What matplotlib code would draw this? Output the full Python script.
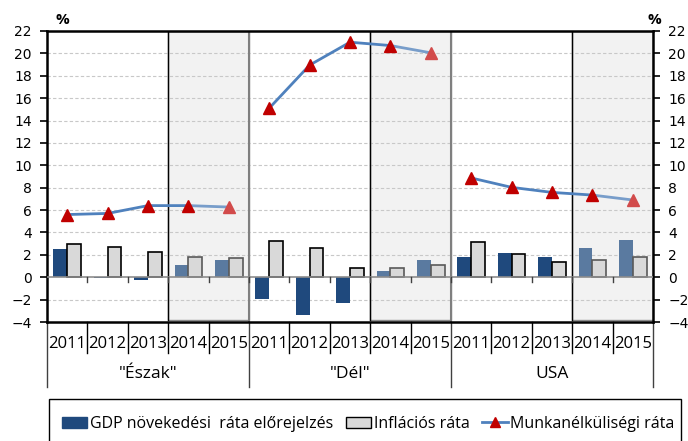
import matplotlib.pyplot as plt
import matplotlib.transforms as mtransforms
from matplotlib.patches import Rectangle, Patch
from matplotlib.lines import Line2D
import numpy as np

groups = ['"Észak"', '"Dél"', "USA"]
years = ["2011", "2012", "2013", "2014", "2015"]
n_forecast = 2  # last two years are forecasts

gdp = [
    [2.5, -0.05, -0.25, 1.05, 1.55],
    [-1.97, -3.37, -2.27, 0.57, 1.5],
    [1.8, 2.2, 1.85, 2.6, 3.35],
]
inflation = [
    [2.95, 2.7, 2.25, 1.85, 1.7],
    [3.2, 2.57, 0.84, 0.84, 1.05],
    [3.13, 2.1, 1.4, 1.55, 1.8],
]
unemployment = [
    [5.6, 5.7, 6.4, 6.4, 6.27],
    [15.1, 18.95, 21.0, 20.7, 20.05],
    [8.87, 8.03, 7.58, 7.34, 6.9],
]

C_GDP = "#1f497d"
C_GDP_F = "#5a7aa0"
C_INF = "#d9d9d9"
C_LINE = "#4f81bd"
C_MARK = "#c00000"
C_MARK_F = "#d24b4b"

plt.rcParams["font.family"] = ["Open Sans", "DejaVu Sans"]

fig = plt.figure(figsize=(6.88, 4.41), dpi=100)
ax = fig.add_axes([47 / 688, 1 - 322 / 441, 606 / 688, 291 / 441])

n_years = len(years)
total = n_years * len(groups)
ax.set_xlim(0, total)
ax.set_ylim(-4, 22)
trans = mtransforms.blended_transform_factory(ax.transData, ax.transAxes)

w = 0.34
for g in range(len(groups)):
    base = g * n_years
    # forecast shading
    ax.add_patch(Rectangle((base + n_years - n_forecast, -3.85), n_forecast, 25.85,
                           facecolor="#f2f2f2", edgecolor="#8c8c8c", lw=1.0, zorder=0))
    ax.plot([base + n_years - n_forecast] * 2, [-3.85, 22], color="black", lw=1.0, zorder=1)
    if g > 0:
        ax.plot([base, base], [-4, 22], color="#7f7f7f", lw=1.5, zorder=1)
    for i in range(n_years):
        xc = base + i + 0.5
        fc = i >= n_years - n_forecast
        ax.bar(xc - w / 2, gdp[g][i], w, color=C_GDP_F if fc else C_GDP, zorder=3)
        ax.bar(xc + w / 2, inflation[g][i], w, color=C_INF,
               edgecolor="#595959" if fc else "black", lw=1.2, zorder=3)
    xs = base + np.arange(n_years) + 0.5
    k = n_years - n_forecast
    ax.plot(xs[:k + 1], unemployment[g][:k + 1], color=C_LINE, lw=2, zorder=4)
    ax.plot(xs[k:], unemployment[g][k:], color=C_LINE, lw=2, alpha=0.75, zorder=4)
    ax.plot(xs[:k + 1], unemployment[g][:k + 1], ls="none", marker="^", ms=8,
            color=C_MARK, zorder=5)
    ax.plot(xs[k + 1:], unemployment[g][k + 1:], ls="none", marker="^", ms=8,
            color=C_MARK_F, zorder=5)
    ax.text(base + n_years / 2, -0.18, groups[g], transform=trans,
            ha="center", va="center", fontsize=12.5)

# grid and zero line
for yv in range(-2, 22, 2):
    if yv == 0:
        continue
    ax.axhline(yv, color="#c8c8c8", lw=0.8, ls=(0, (3, 2)), zorder=0.5)
ax.axhline(0, color="#8c8c8c", lw=1.2, zorder=3.5)
for xb in range(1, total):
    ax.plot([xb, xb], [0, -0.45], color="#404040", lw=1.0, zorder=3.5)

# y axes
ax.set_yticks(range(-4, 23, 2))
ax.tick_params(axis="y", which="both", left=True, right=True, labelleft=True,
               labelright=True, direction="out", length=5, width=1.2, labelsize=10, pad=6)
for lab in ax.get_yticklabels():
    lab.set_fontfamily("DejaVu Sans")
ax.set_xticks([])
for s in ax.spines.values():
    s.set_color("black")
    s.set_linewidth(1.8)

# year labels and separators below the axis
for j in range(total):
    ax.text(j + 0.5, -0.075, years[j % n_years], transform=trans, ha="center",
            va="center", fontsize=12)
for xb in range(total + 1):
    bottom = -0.225 if xb % n_years == 0 else -0.105
    ax.add_line(Line2D([xb, xb], [0, bottom], transform=trans, color="black" if xb % n_years else "#404040",
                       lw=1.0, clip_on=False))

fig.text(62 / 688, 1 - 20 / 441, "%", ha="center", va="center", fontsize=11, fontweight="bold")
fig.text(654 / 688, 1 - 20 / 441, "%", ha="center", va="center", fontsize=11, fontweight="bold")

# legend
fig.add_artist(Rectangle((49 / 688, -0.05), 632 / 688, 0.05 + 42 / 441,
                         transform=fig.transFigure, facecolor="white", edgecolor="black", lw=1.0))
handles = [
    Patch(facecolor=C_GDP, edgecolor=C_GDP),
    Patch(facecolor=C_INF, edgecolor="black"),
    Line2D([], [], color=C_LINE, lw=2, marker="^", markersize=7,
           markerfacecolor=C_MARK, markeredgecolor=C_MARK),
]
labels = ["GDP növekedési  ráta előrejelzés", "Inflációs ráta", "Munkanélküliségi ráta"]
fig.legend(handles, labels, loc="center", bbox_to_anchor=(368 / 688, 1 - 424 / 441), ncol=3,
           frameon=False, fontsize=11.5, handlelength=1.6, handletextpad=0.15, columnspacing=0.8,
           borderpad=0)

fig.savefig("out.png", dpi=100)
